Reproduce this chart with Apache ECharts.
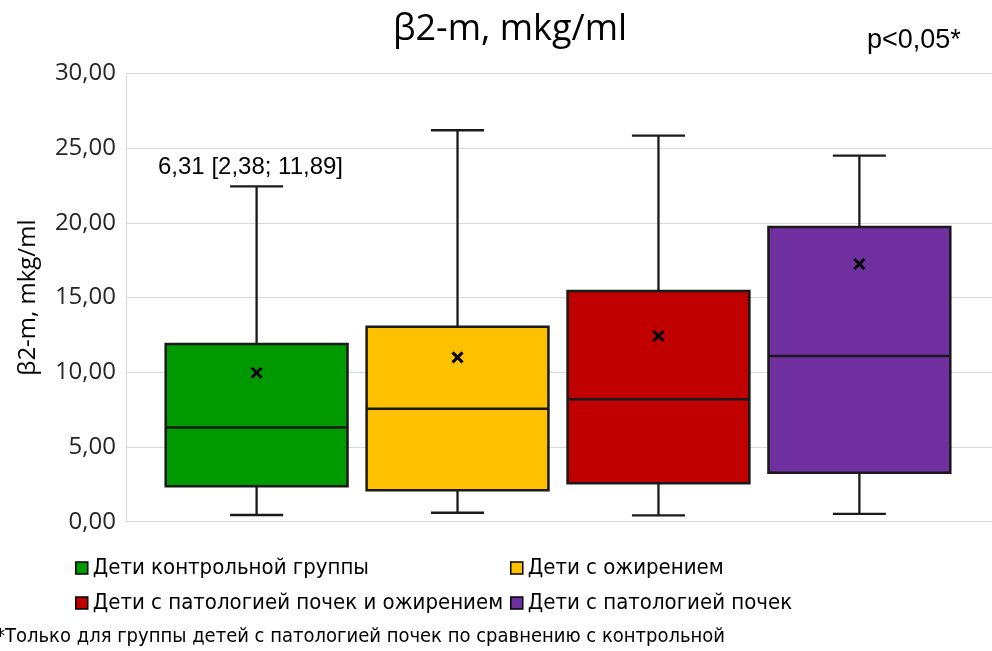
<!DOCTYPE html>
<html>
<head>
<meta charset="utf-8">
<script src="https://cdn.jsdelivr.net/npm/echarts@6/dist/echarts.min.js"></script>
<style>html,body{margin:0;padding:0;background:#fff}#chart{width:992px;height:651px}</style>
</head>
<body>
<div id="chart"></div>
<script>
// группы и значения (мин, Q1, медиана, Q3, макс, среднее)
var groups = ['Дети контрольной группы', 'Дети с ожирением', 'Дети с патологией почек и ожирением', 'Дети с патологией почек'];
var colors = ['#009900', '#FFC000', '#C00000', '#7030A0'];
var whiskerLow = [0.45, 0.60, 0.43, 0.52];
var q1 = [2.38, 2.10, 2.57, 3.28];
var median = [6.31, 7.56, 8.19, 11.09];
var q3 = [11.89, 13.05, 15.44, 19.73];
var whiskerHigh = [22.45, 26.20, 25.84, 24.50];
var mean = [9.97, 11.00, 12.43, 17.25];

var narrow = '"Liberation Sans Narrow", "DejaVu Sans Condensed", "Liberation Sans", sans-serif';

var chart = echarts.init(document.getElementById('chart'));

function renderBox(params, api) {
    var x = api.value(0);
    var pLow = api.coord([x, api.value(1)]);
    var pQ1 = api.coord([x, api.value(2)]);
    var pMed = api.coord([x, api.value(3)]);
    var pQ3 = api.coord([x, api.value(4)]);
    var pHigh = api.coord([x, api.value(5)]);
    var pMean = api.coord([x, api.value(6)]);
    var bw = api.size([0.905, 0])[0];
    var cw = api.size([0.264, 0])[0];
    var cx = pMed[0];
    var ln = { stroke: '#1a1a1a', lineWidth: 2.3 };
    var m = 5;
    return {
        type: 'group',
        children: [
            { type: 'line', shape: { x1: cx, y1: pQ3[1], x2: cx, y2: pHigh[1] }, style: ln },
            { type: 'line', shape: { x1: cx - cw / 2, y1: pHigh[1], x2: cx + cw / 2, y2: pHigh[1] }, style: ln },
            { type: 'line', shape: { x1: cx, y1: pQ1[1], x2: cx, y2: pLow[1] }, style: ln },
            { type: 'line', shape: { x1: cx - cw / 2, y1: pLow[1], x2: cx + cw / 2, y2: pLow[1] }, style: ln },
            { type: 'rect', shape: { x: cx - bw / 2, y: pQ3[1], width: bw, height: pQ1[1] - pQ3[1] },
              style: { fill: api.visual('color'), stroke: '#1a1a1a', lineWidth: 2.5 } },
            { type: 'line', shape: { x1: cx - bw / 2, y1: pMed[1], x2: cx + bw / 2, y2: pMed[1] }, style: { stroke: '#1a1a1a', lineWidth: 2.5 } },
            { type: 'line', shape: { x1: pMean[0] - m, y1: pMean[1] - m, x2: pMean[0] + m, y2: pMean[1] + m }, style: { stroke: '#000', lineWidth: 3 } },
            { type: 'line', shape: { x1: pMean[0] - m, y1: pMean[1] + m, x2: pMean[0] + m, y2: pMean[1] - m }, style: { stroke: '#000', lineWidth: 3 } }
        ]
    };
}

var series = [];
for (var i = 0; i < groups.length; i++) {
    series.push({
        name: groups[i],
        type: 'custom',
        renderItem: renderBox,
        itemStyle: { color: colors[i] },
        encode: { x: 0, y: [1, 2, 3, 4, 5] },
        data: [[i + 1, whiskerLow[i], q1[i], median[i], q3[i], whiskerHigh[i], mean[i]]]
    });
}

var legendText = { fontFamily: narrow, fontSize: 22, color: '#000', lineHeight: 22 };

var option = {
    animation: false,
    title: {
        text: 'β2-m, mkg/ml',
        left: 505, top: 7, textAlign: 'center',
        textStyle: { fontFamily: 'Open Sans', fontWeight: 'normal', fontSize: 36, color: '#000' }
    },
    grid: { left: 126, right: 0, top: 73.5, bottom: 129.3 },
    xAxis: { type: 'value', min: 0.35, max: 4.66, show: false },
    yAxis: {
        type: 'value', min: 0, max: 30, interval: 5,
        name: 'β2-m, mkg/ml', nameLocation: 'middle', nameGap: 86,
        nameTextStyle: { fontFamily: 'Open Sans', fontSize: 24, color: '#000' },
        axisLine: { show: true, lineStyle: { color: '#d9d9d9', width: 1 } },
        axisTick: { show: false },
        axisLabel: {
            margin: 10, fontFamily: 'Open Sans', fontSize: 24, color: '#262626',
            formatter: function (v) { return v.toFixed(2).replace('.', ','); }
        },
        splitLine: { lineStyle: { color: '#d9d9d9', width: 1 } }
    },
    legend: [
        {
            data: [groups[0], groups[2]], orient: 'vertical', left: 75, top: 557, padding: 0,
            itemWidth: 12, itemHeight: 12, itemGap: 13, icon: 'rect',
            itemStyle: { borderColor: '#000', borderWidth: 1.5 },
            textStyle: legendText, selectedMode: false
        },
        {
            data: [groups[1], groups[3]], orient: 'vertical', left: 510, top: 557, padding: 0,
            itemWidth: 12, itemHeight: 12, itemGap: 13, icon: 'rect',
            itemStyle: { borderColor: '#000', borderWidth: 1.5 },
            textStyle: legendText, selectedMode: false
        }
    ],
    graphic: [
        { type: 'text', left: 158, top: 155, style: { text: '6,31 [2,38; 11,89]', fontFamily: 'Liberation Sans', fontSize: 24, fill: '#000' } },
        { type: 'text', left: 867, top: 27, style: { text: 'p<0,05*', fontFamily: 'Liberation Sans', fontSize: 27, fill: '#000' } },
        { type: 'text', left: -4, top: 627, style: { text: '*Только для группы детей с патологией почек по сравнению с контрольной', fontFamily: narrow, fontSize: 20, fill: '#000' } }
    ],
    series: series
};

chart.setOption(option);
</script>
</body>
</html>
